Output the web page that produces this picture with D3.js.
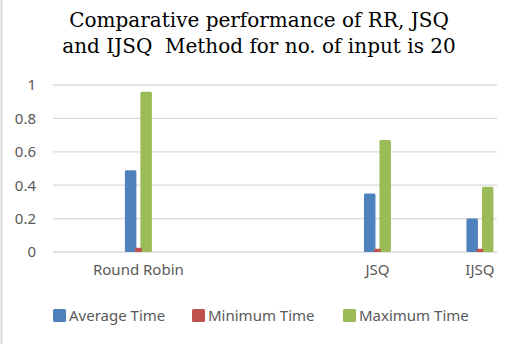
<!DOCTYPE html>
<html>
<head>
<meta charset="utf-8">
<script src="https://cdn.jsdelivr.net/npm/d3@7"></script>
<style>
  body { margin: 0; background: #fff; }
  svg { display: block; }
</style>
</head>
<body>
<script>
// categories (blank slots keep the original spacing of the Excel axis)
var categories = ['', '', 'Round Robin', '', '', '', '', '', '', 'JSQ', '', '', 'IJSQ'];
var seriesNames = ['Average Time', 'Minimum Time', 'Maximum Time'];
var averageTime = [null, null, 0.49, null, null, null, null, null, null, 0.35, null, null, 0.20];
var minimumTime = [null, null, 0.025, null, null, null, null, null, null, 0.02, null, null, 0.02];
var maximumTime = [null, null, 0.96, null, null, null, null, null, null, 0.67, null, null, 0.39];
var yTicks = [0, 0.2, 0.4, 0.6, 0.8, 1];
var colors = ['#4f81bd', '#c0504d', '#9bbb59'];

var width = 518, height = 344;
var margin = {top: 85, right: 21, bottom: 92, left: 53};

var svg = d3.select('body').append('svg')
    .attr('width', width)
    .attr('height', height);

// faint chart frame
svg.append('rect')
    .attr('x', 1.5).attr('y', -2)
    .attr('width', width + 4).attr('height', height + 4)
    .attr('fill', 'none')
    .attr('stroke', '#d9d9d9')
    .attr('stroke-width', 2);

// title
var title = svg.append('text')
    .attr('text-anchor', 'middle')
    .style('font-family', '"DejaVu Serif", serif')
    .style('font-size', '20px')
    .attr('fill', '#000');
title.append('tspan').attr('x', 259).attr('y', 27).text('Comparative performance of RR, JSQ');
title.append('tspan').attr('x', 259).attr('y', 53).text('and IJSQ\u00a0 Method for no. of input is 20');

var x0 = d3.scaleBand()
    .domain(d3.range(categories.length))
    .range([margin.left, width - margin.right]);

var x1 = d3.scaleBand()
    .domain(seriesNames)
    .range([0, 27]);

var y = d3.scaleLinear()
    .domain([0, 1])
    .range([height - margin.bottom, margin.top]);

// gridlines
svg.append('g')
    .selectAll('line')
    .data(yTicks)
    .enter().append('line')
    .attr('x1', margin.left)
    .attr('x2', width - margin.right)
    .attr('y1', function (d) { return y(d); })
    .attr('y2', function (d) { return y(d); })
    .attr('stroke', '#d9d9d9')
    .attr('stroke-width', 1.3);

// y axis labels
var yAxis = d3.axisLeft(y).tickValues(yTicks).tickSize(0).tickPadding(17)
    .tickFormat(function (d) { return d3.format('')(d); });
var gy = svg.append('g')
    .attr('transform', 'translate(' + margin.left + ',0)')
    .call(yAxis);
gy.select('.domain').remove();
gy.selectAll('text')
    .style('font-family', '"Noto Sans", sans-serif')
    .style('font-size', '15px')
    .attr('fill', '#595959');

// x axis labels
var xAxis = d3.axisBottom(x0).tickSize(0).tickPadding(12)
    .tickFormat(function (i) { return categories[i]; });
var gx = svg.append('g')
    .attr('transform', 'translate(0,' + y(0) + ')')
    .call(xAxis);
gx.select('.domain').remove();
gx.selectAll('text')
    .style('font-family', '"Noto Sans", sans-serif')
    .style('font-size', '15px')
    .attr('fill', '#595959');

// bars
var seriesValues = [averageTime, minimumTime, maximumTime];
var barWidths = [11.5, 7, 11.5];
var drawOrder = [0, 2, 1];
var groupOffset = (x0.bandwidth() - 27) / 2;

drawOrder.forEach(function (s) {
    var rows = seriesValues[s].map(function (v, i) { return {i: i, v: v}; })
        .filter(function (d) { return d.v !== null; });
    svg.append('g')
        .selectAll('rect')
        .data(rows)
        .enter().append('rect')
        .attr('x', function (d) {
            var center = x0(d.i) + groupOffset + x1(seriesNames[s]) + x1.bandwidth() / 2;
            if (s === 0) return center - 4.5;
            if (s === 2) return center + 4.5 - barWidths[s];
            return center - barWidths[s] / 2;
        })
        .attr('y', function (d) { return y(d.v); })
        .attr('width', barWidths[s])
        .attr('height', function (d) { return y(0) - y(d.v); })
        .attr('rx', 1.5)
        .attr('fill', colors[s]);
});

// legend
var legendX = [53, 192, 343];
var legend = svg.append('g')
    .selectAll('g')
    .data(seriesNames)
    .enter().append('g')
    .attr('transform', function (d, i) { return 'translate(' + legendX[i] + ',309)'; });
legend.append('rect')
    .attr('width', 13).attr('height', 13).attr('rx', 1.5)
    .attr('fill', function (d, i) { return colors[i]; });
legend.append('text')
    .attr('x', 16).attr('y', 12)
    .style('font-family', '"Noto Sans", sans-serif')
    .style('font-size', '15px')
    .attr('fill', '#595959')
    .text(function (d) { return d; });
</script>
</body>
</html>
